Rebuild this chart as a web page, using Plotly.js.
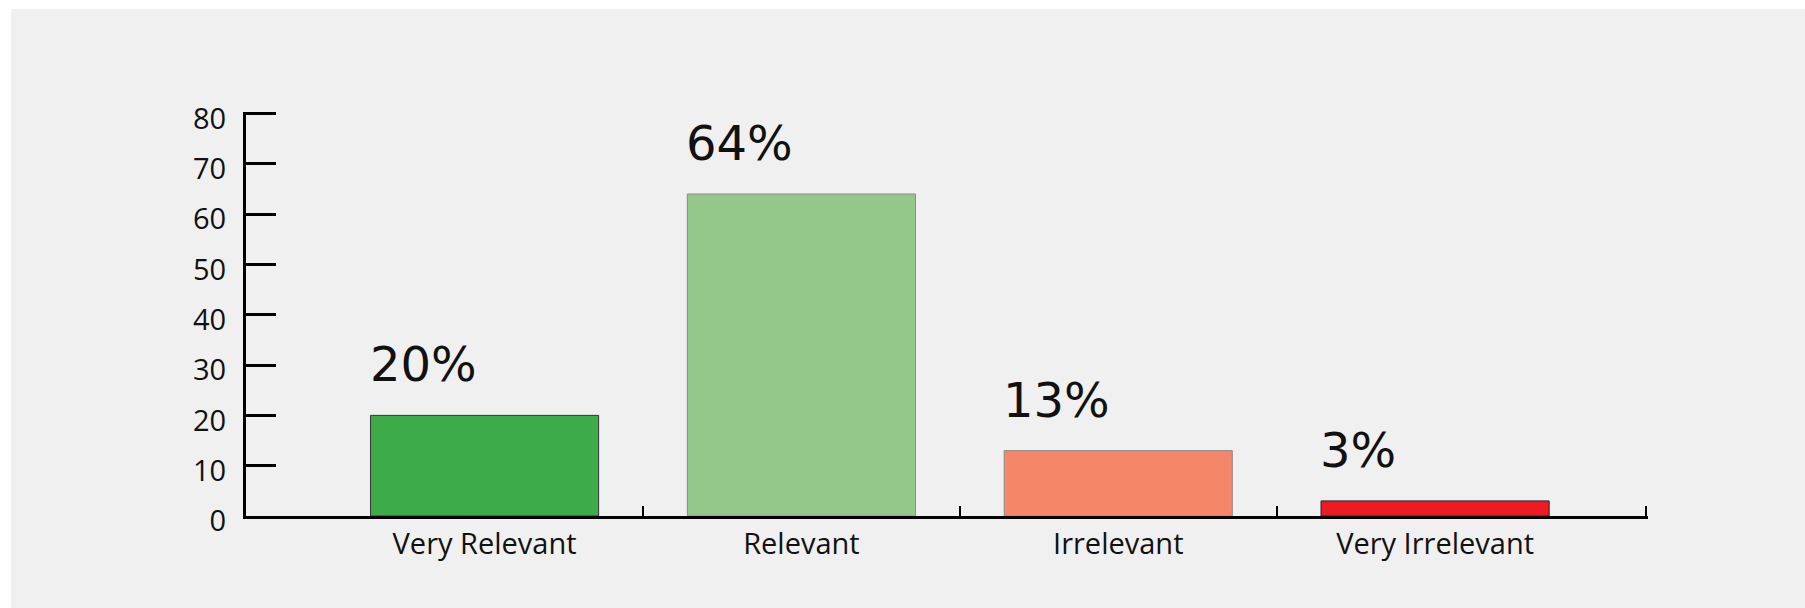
<!DOCTYPE html>
<html>
<head>
<meta charset="utf-8">
<script src="https://cdn.plot.ly/plotly-3.0.1.min.js"></script>
<style>
  html, body { margin: 0; padding: 0; background: #ffffff; width: 1805px; height: 608px; overflow: hidden; }
  #chart { position: absolute; left: 11px; top: 9px; width: 1794px; height: 599px; }
</style>
</head>
<body>
<div id="chart"></div>
<script>
// ---- data ----
const categories = ["Very Relevant", "Relevant", "Irrelevant", "Very Irrelevant"];
const values = [20, 64, 13, 3];
const valueLabels = ["20%", "64%", "13%", "3%"];
const barColors = ["#3dab49", "#94c88a", "#f58667", "#ed1c24"];
const barLineColors = ["#333333", "#8a8a8a", "#8a8a8a", "#222222"];
const yTickVals = [0, 10, 20, 30, 40, 50, 60, 70, 80];

// ---- styling / geometry ----
const BAR_WIDTH = 0.72;
const X_RANGE = [-0.753, 3.672];
const Y_RANGE = [0, 80.3];

const idx = categories.map((c, i) => i);
// tick marks on category boundaries between bars, plus one at the axis end
const boundaryTicks = idx.slice(1).map(i => i - 0.5).concat([X_RANGE[1] - 0.006]);

const traces = [
  {
    type: "bar",
    x: categories,
    y: values,
    width: BAR_WIDTH,
    marker: { color: barColors, line: { color: barLineColors, width: 1 } },
    hoverinfo: "skip",
    showlegend: false
  },
  {
    // invisible helper trace so that the boundary-tick axis is drawn
    type: "scatter",
    mode: "markers",
    x: [X_RANGE[0]],
    y: [0],
    xaxis: "x2",
    marker: { opacity: 0 },
    hoverinfo: "skip",
    showlegend: false
  }
];

const annotations = categories.map((c, i) => ({
  x: i - BAR_WIDTH / 2,
  y: values[i],
  xref: "x",
  yref: "y",
  text: valueLabels[i],
  showarrow: false,
  xanchor: "left",
  yanchor: "bottom",
  yshift: 21,
  xshift: -3,
  font: { family: "DejaVu Sans", size: 48, color: "#111111" }
}));

const layout = {
  width: 1794,
  height: 599,
  paper_bgcolor: "#f0f0f0",
  plot_bgcolor: "#f0f0f0",
  margin: { l: 235, r: 157, t: 103, b: 92, pad: 0 },
  showlegend: false,
  xaxis: {
    type: "category",
    range: X_RANGE,
    showline: true,
    linecolor: "#000000",
    linewidth: 3,
    ticks: "",
    showgrid: false,
    zeroline: false,
    tickfont: { family: "Open Sans", size: 29, color: "#111111" },
    ticklabelstandoff: 0,
    fixedrange: true
  },
  xaxis2: {
    overlaying: "x",
    anchor: "y",
    type: "linear",
    range: X_RANGE,
    tickmode: "array",
    tickvals: boundaryTicks,
    ticks: "inside",
    ticklen: 10,
    tickwidth: 2,
    tickcolor: "#000000",
    showticklabels: false,
    showline: false,
    showgrid: false,
    zeroline: false,
    fixedrange: true
  },
  yaxis: {
    range: Y_RANGE,
    tickmode: "array",
    tickvals: yTickVals,
    ticktext: yTickVals.map(String),
    showline: true,
    linecolor: "#000000",
    linewidth: 3,
    ticks: "inside",
    ticklen: 30,
    tickwidth: 3,
    tickcolor: "#000000",
    showgrid: false,
    zeroline: false,
    tickfont: { family: "Open Sans", size: 29, color: "#111111" },
    ticklabelstandoff: 11,
    ticklabelshift: 5,
    fixedrange: true
  },
  annotations: annotations
};

Plotly.newPlot("chart", traces, layout, { staticPlot: true, displayModeBar: false });
</script>
</body>
</html>
